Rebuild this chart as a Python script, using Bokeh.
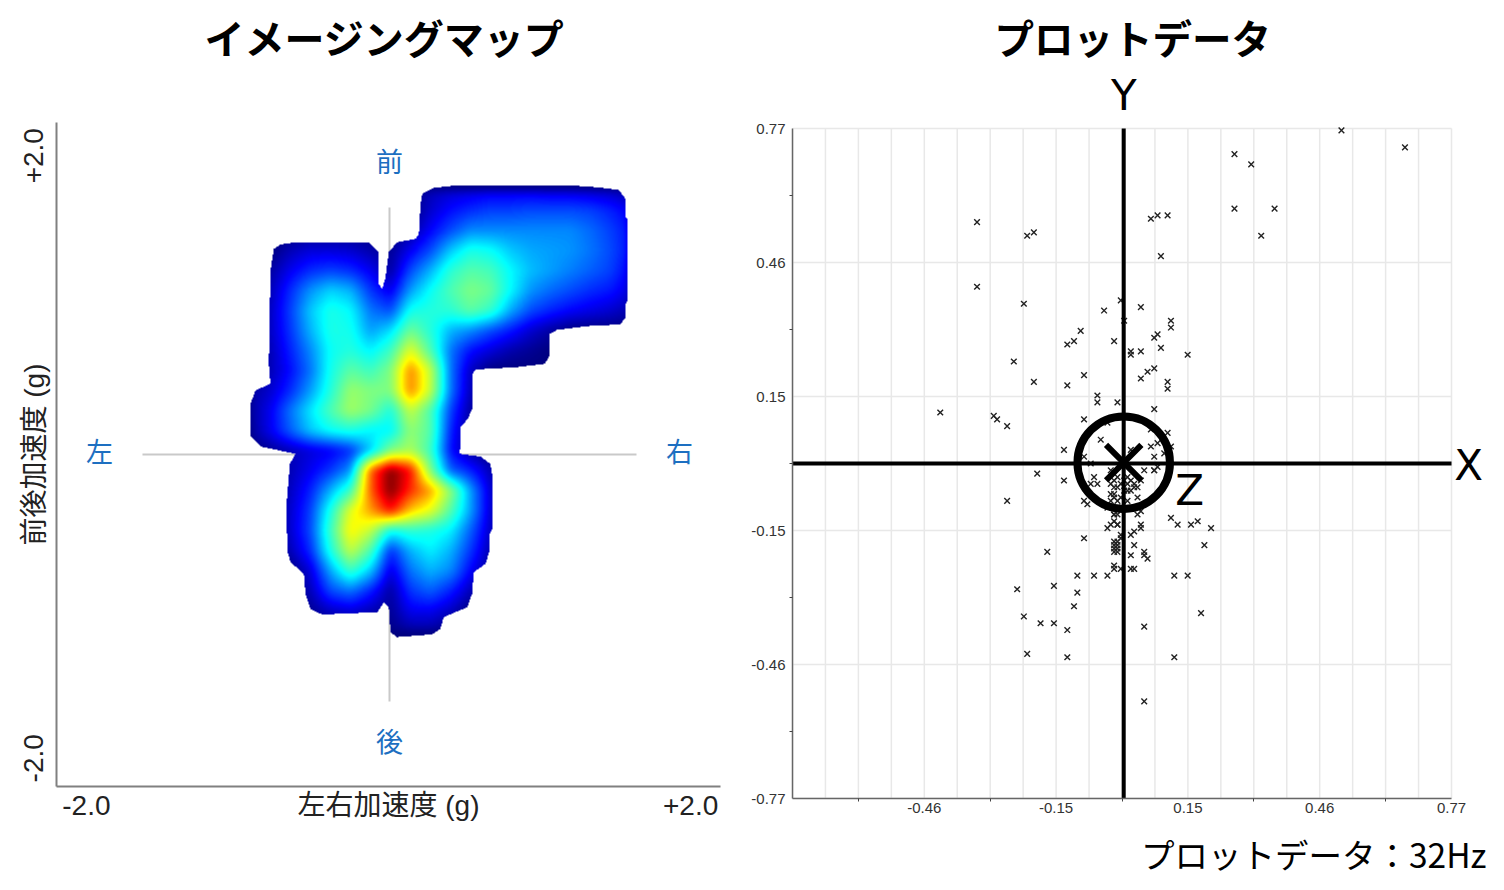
import numpy as np
from bokeh.embed import file_html
from bokeh.layouts import row, column
from bokeh.models import FixedTicker, Label, LinearColorMapper, Title
from bokeh.plotting import figure
from bokeh.resources import INLINE

# ---- texts -------------------------------------------------------------
title_left = "イメージングマップ"
title_right = "プロットデータ"
caption = "プロットデータ：32Hz"
x_name = "左右加速度 (g)"
y_name = "前後加速度 (g)"
low_label, high_label = "-2.0", "+2.0"
dir_labels = ["前", "後", "左", "右"]
scatter_x_ticks = [-0.462, -0.154, 0.154, 0.462, 0.77]
scatter_x_labels = ["-0.46", "-0.15", "0.15", "0.46", "0.77"]
scatter_y_ticks = [-0.77, -0.462, -0.154, 0.154, 0.462, 0.77]
scatter_y_labels = ["-0.77", "-0.46", "-0.15", "0.15", "0.46", "0.77"]

# ---- imaging map: level (0 navy ... 1 dark red),
# one row per 0.12 g from the top, one column per 0.12 g from the left
map_col_first, map_row_first, map_step = -0.831, 1.590, 0.1205
map_levels = [
 [0,0,0,0,0,0,0,0,0,.05,.07,.08,.09,.09,.09,.08,.08,.07,.06,.03],
 [0,0,0,0,0,0,0,0,0,.07,.12,.15,.17,.17,.18,.18,.18,.17,.14,.10],
 [0,0,0,0,0,0,0,0,.03,.11,.18,.24,.24,.24,.24,.24,.24,.21,.17,.12],
 [0,0,.05,.08,.08,.07,.04,.02,.10,.18,.30,.38,.36,.30,.27,.26,.25,.22,.18,.12],
 [0,.03,.10,.15,.17,.15,.10,.03,.18,.28,.40,.45,.43,.35,.29,.26,.23,.20,.17,.10],
 [0,.05,.15,.25,.31,.28,.16,.09,.26,.36,.44,.50,.47,.35,.25,.21,.18,.15,.13,.08],
 [0,.06,.17,.30,.38,.35,.22,.18,.37,.39,.40,.46,.41,.27,.18,.14,.11,.09,.07,.04],
 [0,.06,.16,.28,.38,.37,.26,.32,.48,.39,.28,.24,.18,.13,.07,.03,0,0,0,0],
 [0,.05,.14,.24,.36,.39,.34,.42,.62,.44,.22,.12,.08,.04,.02,0,0,0,0,0],
 [0,.05,.12,.22,.37,.46,.42,.50,.77,.58,.22,.06,0,0,0,0,0,0,0,0],
 [.03,.07,.15,.26,.39,.53,.50,.50,.77,.58,.22,.05,0,0,0,0,0,0,0,0],
 [.03,.10,.22,.33,.44,.54,.49,.38,.58,.44,.17,.03,0,0,0,0,0,0,0,0],
 [.02,.10,.20,.30,.36,.38,.34,.34,.52,.45,.14,.02,0,0,0,0,0,0,0,0],
 [0,.02,.05,.08,.10,.15,.30,.50,.55,.42,.12,.03,0,0,0,0,0,0,0,0],
 [0,0,.05,.10,.16,.25,.80,1.0,.88,.50,.20,.14,.05,0,0,0,0,0,0,0],
 [0,0,.06,.14,.28,.42,.80,1.0,.85,.74,.52,.26,.07,0,0,0,0,0,0,0],
 [0,0,.07,.17,.38,.62,.74,.88,.70,.62,.45,.26,.07,0,0,0,0,0,0,0],
 [0,0,.07,.18,.42,.66,.58,.36,.40,.38,.34,.20,.06,0,0,0,0,0,0,0],
 [0,0,.05,.15,.38,.58,.44,.15,.28,.34,.28,.16,.04,0,0,0,0,0,0,0],
 [0,0,0,.08,.27,.42,.30,.08,.22,.28,.24,.11,.02,0,0,0,0,0,0,0],
 [0,0,0,.05,.18,.22,.14,.03,.16,.20,.14,.05,0,0,0,0,0,0,0,0],
 [0,0,0,.02,.06,.08,.05,.02,.10,.10,.06,0,0,0,0,0,0,0,0,0],
 [0,0,0,0,0,0,0,.01,.03,.03,0,0,0,0,0,0,0,0,0,0],
]
# outline of the painted area, in g
map_edge_x = [.203,.273,.414,1.086,1.257,1.388,1.428,1.428,1.442,1.442,1.428,1.428,1.398,1.217,1.016,.972,.972,.940,.775,.524,.508,.508,.478,.434,.430,.554,.614,.625,.625,.610,.610,.584,.514,.504,.474,.333,.313,.263,.052,.012,.002,-.028,-.068,-.400,-.470,-.500,-.510,-.590,-.610,-.614,-.594,-.560,-.771,-.831,-.831,-.801,-.711,-.721,-.711,-.691,-.651,-.560,-.118,-.058,-.058,-.038,-.018,.002,.052,.163,.183,.193]
map_edge_y = [1.570,1.606,1.622,1.622,1.610,1.594,1.540,1.430,1.420,.928,.908,.827,.783,.775,.751,.727,.596,.546,.526,.512,.486,.285,.215,.165,.004,-.012,-.056,-.127,-.448,-.478,-.578,-.659,-.709,-.839,-.920,-.980,-1.050,-1.084,-1.100,-1.070,-.920,-.890,-.950,-.964,-.930,-.839,-.719,-.649,-.578,-.297,-.056,.004,.048,.114,.305,.386,.426,.546,1.108,1.239,1.265,1.279,1.279,1.219,1.028,.998,1.068,1.219,1.279,1.299,1.329,1.510]

# ---- plot data: one count is 1/128 g
count_per_g = 128
plot_x_counts = [33,38,33,45,41,8,10,13,11,-44,-29,-27,-44,-30,-6,-1,5,0,14,14,-13,-15,-17,-3,10,9,11,2,2,5,19,-33,-27,-17,-12,9,7,5,13,13,-8,-8,-2,9,-39,-38,-12,65,84,
 -55,-35,-18,-12,-10,-26,-18,-35,-12,-11,-12,-23,-5,-7,13,8,10,8,14,12,9,2,9,10,6,9,-4,-9,-8,-10,-4,-3,-2,-3,-2,1,2,3,1,4,3,5,1,4,-3,-3,-2,-5,-3,-2,4,5,14,
 0,-1,0,2,-1,1,-4,-4,-2,-1,16,20,22,26,24,5,5,3,2,3,2,6,6,7,-5,-4,-3,-2,-3,-2,-1,-1,-3,-2,-3,-2,-3,-2,-3,-2,-3,-3,-1,2,3,-14,-9,-5,15,19,-14,23,-15,
 -32,-21,-30,-25,-21,-17,-29,-17,6,15,6]
plot_y_counts = [91,88,75,75,67,72,73,73,61,71,67,68,52,47,45,48,46,42,42,40,39,36,35,36,38,37,34,33,32,33,32,30,24,23,26,28,27,25,24,22,20,18,18,16,14,13,13,98,93,
 15,11,4,2,0,-3,-5,-11,-11,-12,-22,-26,12,7,9,10,6,5,5,3,2,4,-2,-1,-2,-2,-2,-4,-6,-6,-6,-5,-4,-7,-7,-4,-5,-6,-6,-7,-7,-5,-8,-10,-9,-10,-11,-13,-15,-15,-15,-14,-16,
 -5,-6,-8,-8,-10,-11,-9,-11,-13,-14,-18,-18,-17,-19,-24,-18,-19,-20,-21,-24,-27,-26,-27,-28,-19,-18,-17,-18,-15,-18,-21,-22,-23,-23,-24,-24,-25,-25,-26,-26,-30,-31,-31,-31,-31,-33,-33,-33,-33,-33,-38,-44,-42,
 -37,-36,-45,-47,-47,-49,-56,-57,-48,-57,-70]

# ---- styles ------------------------------------------------------------
SANS = "Liberation Sans, Noto Sans CJK JP"
CJK = "Noto Sans CJK JP"
BLUE = "#1d6fc1"
GRID = "#e8e8e8"
jet_stops = [(0, (0, 0, 127)), (.11, (0, 0, 255)), (.35, (0, 255, 255)), (.5, (127, 255, 127)),
             (.65, (255, 255, 0)), (.89, (255, 0, 0)), (1, (127, 0, 0))]
pos = np.linspace(0, 1, 256)
chan = [np.interp(pos, [s[0] for s in jet_stops], [s[1][c] for s in jet_stops]).round().astype(int) for c in range(3)]
jet = ["#%02x%02x%02x" % (r, g, b) for r, g, b in zip(*chan)]


def text(p, x, y, s, size, color="black", font=CJK, style="normal"):
    p.add_layout(Label(x=x, y=y, text=s, text_font=font, text_font_size=f"{size}px", text_color=color,
                       text_font_style=style, text_align="center", text_baseline="middle"))


# ---- left panel --------------------------------------------------------
# the frame reaches the top of the page so that the title can lie inside it;
# the axis itself stops at the +2.0 end
left_h, left_top, left_bottom = 884, 0, 98
g_per_px_left = 4 / 664
left = figure(width=745, height=left_h, x_range=(-2, 2),
              y_range=(-2, -2 + (left_h - left_top - left_bottom) * g_per_px_left), output_backend="svg",
              toolbar_location=None, min_border_left=56, min_border_right=25, min_border_top=left_top,
              min_border_bottom=left_bottom, outline_line_color=None)
left.grid.visible = False
left.xaxis[0].ticker = FixedTicker(ticks=[-1.82, 0, 1.82])
left.xaxis[0].major_label_overrides = {-1.82: low_label, 0: x_name, 1.82: high_label}
left.yaxis[0].ticker = FixedTicker(ticks=[-1.83, 0, 1.80])
left.yaxis[0].major_label_overrides = {-1.83: low_label, 0: y_name, 1.80: high_label}
left.yaxis[0].bounds = (-2, 2)
for ax in (left.xaxis[0], left.yaxis[0]):
    ax.major_tick_line_color = None
    ax.minor_tick_line_color = None
    ax.axis_line_color = "#808080"
    ax.axis_line_width = 2
    ax.major_label_text_font = SANS
    ax.major_label_text_font_size = "28px"
    ax.major_label_text_color = "#222222"
left.yaxis[0].major_label_orientation = "vertical"
left.xaxis[0].major_label_standoff = -3
left.yaxis[0].major_label_standoff = 1

left.segment([-1.482, 0.006], [0.0, -1.488], [1.494, 0.006], [0.0, 1.488], line_color="#c9c9c9", line_width=2)

# image pixels are one screen pixel each (166 px per g)
px_per_g = 166
nx, ny = 400, 480
x0, y0 = -148 / px_per_g, -196 / px_per_g
fx = x0 + (np.arange(nx) + .5) / px_per_g
fy = y0 + (np.arange(ny) + .5) / px_per_g
levels = np.array(map_levels, dtype=float)[::-1]
col_g = map_col_first + map_step * np.arange(levels.shape[1])
row_g = (map_row_first - map_step * np.arange(levels.shape[0]))[::-1]
# display resampling of the coarse reading, the map being a blurred density
across = np.array([np.interp(fx, col_g, r, left=0, right=0) for r in levels])
fine = np.array([np.interp(fy, row_g, across[:, j], left=0, right=0) for j in range(nx)]).T
kernel = np.ones(9) / 9
for _ in range(2):
    fine = np.apply_along_axis(lambda v: np.convolve(v, kernel, mode="same"), 0, fine)
    fine = np.apply_along_axis(lambda v: np.convolve(v, kernel, mode="same"), 1, fine)
gx, gy = np.meshgrid(fx, fy)
inside = np.zeros_like(gx, dtype=bool)
ex, ey = np.array(map_edge_x), np.array(map_edge_y)
for xa, ya, xb, yb in zip(ex, ey, np.roll(ex, -1), np.roll(ey, -1)):
    if ya != yb:
        inside ^= ((ya > gy) != (yb > gy)) & (gx < (xb - xa) * (gy - ya) / (yb - ya) + xa)
fine[~inside] = np.nan
mapper = LinearColorMapper(palette=jet, low=0, high=1, nan_color="rgba(0,0,0,0)")
left.image(image=[fine], x=x0, y=y0, dw=nx / px_per_g, dh=ny / px_per_g, color_mapper=mapper)

text(left, -0.024, 2.518, title_left, 40, style="bold")
text(left, 0.006, 1.771, dir_labels[0], 27, BLUE)
text(left, 0.006, -1.723, dir_labels[1], 27, BLUE)
text(left, -1.741, 0.024, dir_labels[2], 27, BLUE)
text(left, 1.753, 0.024, dir_labels[3], 27, BLUE)

# ---- right panel -------------------------------------------------------
# the frame runs on to the top and right of the page for the same reason;
# the axes and grid stop at +-0.77
lim = 0.77
right_w, right_h, right_left, right_bottom = 755, 890, 47, 92
g_per_px_x, g_per_px_y = 2 * lim / 659, 2 * lim / 670
right = figure(width=right_w, height=right_h,
               x_range=(-lim, -lim + (right_w - right_left) * g_per_px_x),
               y_range=(-lim, -lim + (right_h - right_bottom) * g_per_px_y), output_backend="svg",
               toolbar_location=None, min_border_left=right_left, min_border_right=0, min_border_top=0,
               min_border_bottom=right_bottom, outline_line_color=None)
right.grid.visible = False
minor = [-0.616, -0.308, 0.0, 0.308, 0.616]
for ax, ticks, labels in ((right.xaxis[0], scatter_x_ticks, scatter_x_labels),
                          (right.yaxis[0], scatter_y_ticks, scatter_y_labels)):
    ax.ticker = FixedTicker(ticks=ticks, minor_ticks=minor)
    ax.major_label_overrides = dict(zip(ticks, labels))
    ax.bounds = (-lim, lim)
    ax.major_tick_out = 0
    ax.major_tick_in = 0
    ax.minor_tick_out = 3
    ax.minor_tick_in = 0
    ax.axis_line_color = "#666666"
    ax.axis_line_width = 1.5
    ax.minor_tick_line_color = "#444444"
    ax.major_label_text_font = "Liberation Sans"
    ax.major_label_text_font_size = "15px"
    ax.major_label_text_color = "#333333"
right.xaxis[0].major_label_standoff = 1
right.yaxis[0].major_label_standoff = 4

grid_x = [round(-lim + i * lim / 10, 4) for i in range(21)]
grid_y = scatter_y_ticks
right.segment(grid_x, [-lim] * len(grid_x), grid_x, [lim] * len(grid_x), line_color=GRID, line_width=1.5)
right.segment([-lim] * len(grid_y), grid_y, [lim] * len(grid_y), grid_y, line_color=GRID, line_width=1.5)

x_zero = 0.005
px = np.array(plot_x_counts) / count_per_g + x_zero
py = np.array(plot_y_counts) / count_per_g
right.scatter(px, py, marker="x", size=8, line_color="#222222", line_width=1.4)

right.segment([-lim, 0.004], [0.0, -lim], [lim, 0.004], [0.0, lim], line_color="black", line_width=4)
right.scatter([0.004], [0.002], marker="circle", size=92.5, fill_color=None, line_color="black", line_width=8)
right.scatter([0.004], [0.002], marker="x", size=50, line_color="black", line_width=6)

text(right, 0.025, 0.982, title_right, 39.5, style="bold")
text(right, 0.004, 0.846, "Y", 42, font="DejaVu Sans")
text(right, 0.81, -0.005, "X", 42, font="DejaVu Sans")
text(right, 0.158, -0.062, "Z", 42, font="DejaVu Sans")
right.add_layout(Title(text=caption, text_font=CJK, text_font_size="33.5px", text_font_style="normal",
                       text_color="black", align="right", offset=14, standoff=23), "below")

page = row(column(left), column(right), spacing=0)
open("out.html", "w").write(file_html(page, INLINE))
